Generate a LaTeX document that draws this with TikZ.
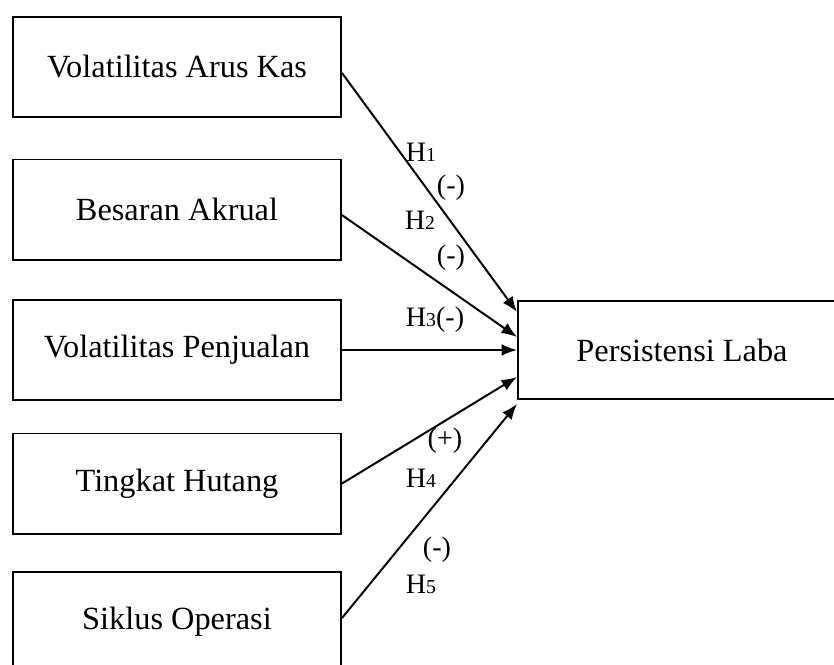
\documentclass[tikz,border=0pt]{standalone}
\usepackage{fontspec}
\setmainfont{Liberation Serif}
\usepackage{tikz}
\usetikzlibrary{arrows,arrows.meta}

\newcommand{\hyp}[1]{H{\fontsize{14}{14}\selectfont #1}}

\begin{document}
\begin{tikzpicture}[
->,
>={Latex[length=11pt,width=8.5pt]},
x=0.025cm,
y=-0.025cm,
line width=1.4pt,
var node/.style={rectangle,
								draw,
								minimum width=8.2cm,
								minimum height=2.5cm,
								inner sep=0pt,
								font=\fontsize{23}{27}\selectfont},
hyp label/.style={inner sep=0pt,
								font=\fontsize{20}{24}\selectfont}]
\useasboundingbox (0,0) rectangle (834,664);
\clip (0,0) rectangle (834,664);
%1
  \node[var node] (vak) at (177,67) {Volatilitas Arus Kas};
%2
  \node[var node] (ba) at (177,209.5) {Besaran Akrual};
%3
  \node[var node] (vp) at (177,350) {Volatilitas Penjualan};
%4
  \node[var node] (th) at (177,483.5) {Tingkat Hutang};
%5
  \node[var node] (so) at (177,622) {Siklus Operasi};
%dependent
  \node[var node, minimum height=2.45cm] (pl) at (682,350) {Persistensi Laba};
%labels
  \node[hyp label] (h1) at (421,152) {\hyp{1}};
  \node[hyp label] (s1) at (451,188) {(-)};
  \node[hyp label] (h2) at (420,220) {\hyp{2}};
  \node[hyp label] (s2) at (451,258) {(-)};
  \node[hyp label] (h3) at (435,320) {\hyp{3}(-)};
  \node[hyp label] (s4) at (445,441) {(+)};
  \node[hyp label] (h4) at (421,478) {\hyp{4}};
  \node[hyp label] (s5) at (437,550) {(-)};
  \node[hyp label] (h5) at (421,584) {\hyp{5}};
%paths
  \draw ([yshift=-0.15cm]vak.east) -- ([yshift=0.95cm]pl.west);
  \draw ([yshift=-0.14cm]ba.east) -- ([yshift=0.325cm]pl.west);
  \draw (vp.east) -- (pl.west);
  \draw (th.east) -- ([yshift=-0.675cm]pl.west);
  \draw ([yshift=0.1cm]so.east) -- ([yshift=-1.35cm]pl.west);
\end{tikzpicture}
\end{document}
